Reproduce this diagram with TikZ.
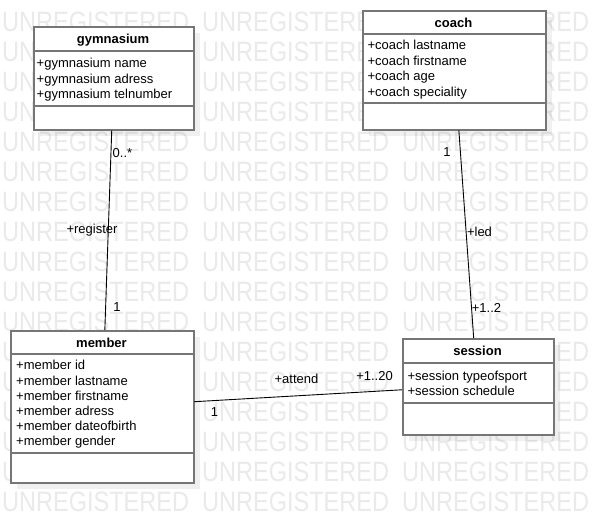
\documentclass[tikz,border=0pt]{standalone}
\usepackage{fontspec}
\setmainfont{Liberation Sans}
\usetikzlibrary{calc}
\definecolor{wmgray}{HTML}{EAEAEA}
\definecolor{boxgray}{HTML}{767676}
\tikzset{
  wm/.style={font=\fontsize{28}{28}\selectfont, text=wmgray, inner sep=0pt, anchor=west, xscale=0.84},
  umlbox/.style={draw=boxgray, line width=1.5pt, fill=white, inner sep=0pt, anchor=north west},
  divider/.style={draw=boxgray, line width=1.5pt},
  shadowbox/.style={fill=black, opacity=0.06},
  title/.style={font=\fontsize{13}{15}\selectfont\bfseries, inner sep=0pt, anchor=base},
  attr/.style={font=\fontsize{13}{15.5}\selectfont, inner sep=0pt, anchor=base west},
  lbl/.style={font=\fontsize{13}{15}\selectfont, inner sep=0pt, anchor=base},
  conn/.style={draw=black, line width=0.9pt},
}
\begin{document}
\begin{tikzpicture}[x=1pt,y=-1pt]
\useasboundingbox (0,0) rectangle (593,522);
\fill[white] (0,0) rectangle (593,522);
% watermark
\foreach \r in {0,...,16}{
  \foreach \c in {0,1,2}{
    \node[wm] (wm-\r-\c) at ({2+200*\c},{22+30*\r}) {UNREGISTERED};
  }
}
% shadows
\fill[shadowbox] (40,33) rectangle (200,136);
\fill[shadowbox] (369,17) rectangle (552,136);
\fill[shadowbox] (17,337) rectangle (200,489);
\fill[shadowbox] (409,345) rectangle (560,441);
% boxes
\node[umlbox, minimum width=160pt, minimum height=103pt] (gym) at (33,26) {};
\draw[divider] (33,51) -- (193,51);
\draw[divider] (33,106) -- (193,106);
\node[title] (gymt) at (113,43.5) {gymnasium};
\node[attr] (gyma1) at (36.5,67.5) {+gymnasium name};
\node[attr] (gyma2) at (36.5,83) {+gymnasium adress};
\node[attr] (gyma3) at (36.5,98.5) {+gymnasium telnumber};

\node[umlbox, minimum width=183pt, minimum height=119pt] (coach) at (362,10) {};
\draw[divider] (362,34) -- (545,34);
\draw[divider] (362,103) -- (545,103);
\node[title] (coacht) at (453.5,27.5) {coach};
\node[attr] (coacha1) at (367.3,49.5) {+coach lastname};
\node[attr] (coacha2) at (367.3,65) {+coach firstname};
\node[attr] (coacha3) at (367.3,80.5) {+coach age};
\node[attr] (coacha4) at (367.3,96) {+coach speciality};

\node[umlbox, minimum width=183pt, minimum height=152pt] (member) at (10,330) {};
\draw[divider] (10,354) -- (193,354);
\draw[divider] (10,453) -- (193,453);
\node[title] (membert) at (101.5,347.5) {member};
\node[attr] (membera1) at (16,369.5) {+member id};
\node[attr] (membera2) at (16,385) {+member lastname};
\node[attr] (membera3) at (16,400.5) {+member firstname};
\node[attr] (membera4) at (16,415.5) {+member adress};
\node[attr] (membera5) at (16,430.5) {+member dateofbirth};
\node[attr] (membera6) at (16,445) {+member gender};

\node[umlbox, minimum width=151pt, minimum height=96pt] (session) at (402,338) {};
\draw[divider] (402,363) -- (553,363);
\draw[divider] (402,403) -- (553,403);
\node[title] (sessiont) at (477.5,355.5) {session};
\node[attr] (sessiona1) at (407.3,380.5) {+session typeofsport};
\node[attr] (sessiona2) at (407.3,395) {+session schedule};

% connectors
\draw[conn] ($(gym.south west)!0.4875!(gym.south east)$) -- ($(member.north west)!0.514!(member.north east)$);
\draw[conn] ($(coach.south west)!0.525!(coach.south east)$) -- ($(session.north west)!0.47!(session.north east)$);
\draw[conn] ($(member.north east)!0.467!(member.south east)$) -- ($(session.north west)!0.531!(session.south west)$);

% labels
\node[lbl] (l1) at (122.5,157.5) {0..*};
\node[lbl] (l2) at (92,233.5) {+register};
\node[lbl] (l3) at (117,311.2) {1};
\node[lbl] (l4) at (447,156.5) {1};
\node[lbl] (l5) at (479.5,236.5) {+led};
\node[lbl] (l6) at (486.5,312.5) {+1..2};
\node[lbl] (l7) at (296.5,383.5) {+attend};
\node[lbl] (l8) at (374.5,380.5) {+1..20};
\node[lbl] (l9) at (214.5,416.5) {1};
\end{tikzpicture}
\end{document}
